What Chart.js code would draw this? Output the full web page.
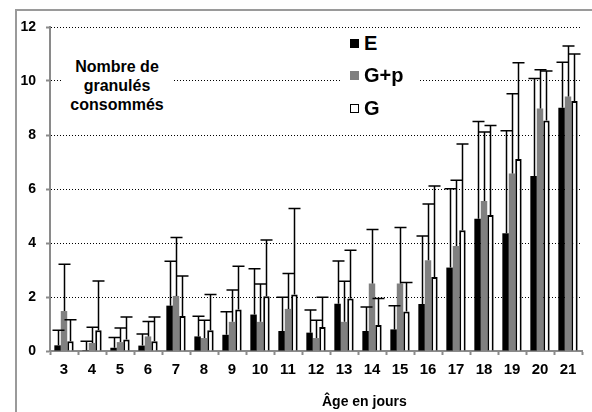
<!DOCTYPE html>
<html>
<head>
<meta charset="utf-8">
<script src="https://cdn.jsdelivr.net/npm/chart.js@4.4.0/dist/chart.umd.min.js"></script>
<style>
  html, body { margin: 0; padding: 0; background: #fff; }
  #wrap { position: relative; width: 592px; height: 412px; overflow: hidden; font-family: "Liberation Sans", Arial, sans-serif; }
  #frame { position: absolute; left: 15px; top: 9px; width: 700px; height: 600px; border: 2px solid #9a9a9a; box-sizing: border-box; }
  canvas { position: absolute; left: 0; top: 0; }
  .note { position: absolute; left: 62px; top: 57px; width: 110px; text-align: center; font-weight: bold; font-size: 16px; line-height: 19px; background: #fff; color: #000; }
  .leg { position: absolute; left: 340px; width: 78px; height: 24px; background: #fff; font-weight: bold; font-size: 20px; line-height: 24px; color: #000; }
  .leg span.sq { position: absolute; left: 10px; top: 8px; width: 9px; height: 9px; box-sizing: border-box; }
  .leg span.tx { position: absolute; left: 24px; top: 0; }
  #xtitle { position: absolute; left: 322px; top: 393px; font-weight: bold; font-size: 14px; color: #000; white-space: nowrap; }
</style>
</head>
<body>
<div id="wrap">
  <div id="frame"></div>
  <canvas id="c" width="592" height="412"></canvas>
  <div class="note">Nombre de<br>granulés<br>consommés</div>
  <div class="leg" style="top:31px"><span class="sq" style="background:#000"></span><span class="tx">E</span></div>
  <div class="leg" style="top:63px"><span class="sq" style="background:#808080"></span><span class="tx">G+p</span></div>
  <div class="leg" style="top:96px"><span class="sq" style="background:#fff;border:1.5px solid #000"></span><span class="tx">G</span></div>
  <div id="xtitle">Âge en jours</div>
</div>
<script>
const categories = ['3','4','5','6','7','8','9','10','11','12','13','14','15','16','17','18','19','20','21'];
const seriesNames = ['E', 'G+p', 'G'];
const valuesE   = [0.21, 0.03, 0.12, 0.20, 1.68, 0.54, 0.60, 1.35, 0.74, 0.68, 1.75, 0.74, 0.80, 1.74, 3.09, 4.90, 4.36, 6.48, 9.01];
const errTopE   = [0.77, 0.36, 0.50, 0.63, 3.32, 1.29, 1.45, 3.05, 1.99, 1.52, 3.33, 1.63, 1.68, 4.26, 6.01, 8.50, 8.16, 10.09, 10.69];
const valuesGp  = [1.48, 0.30, 0.33, 0.54, 2.04, 0.48, 1.08, 1.08, 1.56, 0.48, 1.08, 2.50, 2.50, 3.36, 3.89, 5.56, 6.57, 8.98, 9.43];
const errTopGp  = [3.21, 0.88, 0.85, 1.09, 4.20, 1.14, 2.26, 2.48, 2.87, 1.14, 2.58, 4.50, 4.57, 5.44, 6.32, 8.11, 9.53, 10.42, 11.30];
const valuesG   = [0.36, 0.77, 0.43, 0.36, 1.30, 0.77, 1.54, 2.03, 2.09, 0.89, 1.94, 0.96, 1.46, 2.74, 4.47, 5.04, 7.11, 8.54, 9.26];
const errTopG   = [1.16, 2.59, 1.26, 1.26, 2.78, 2.09, 3.14, 4.11, 5.28, 1.99, 3.73, 1.94, 2.54, 6.11, 7.67, 8.35, 10.68, 10.37, 11.00];
const yTicks    = [0, 2, 4, 6, 8, 10, 12];

const errTops = [errTopE, errTopGp, errTopG];

const errorBars = {
  id: 'errorBars',
  afterDatasetsDraw(chart) {
    const ctx = chart.ctx;
    const y = chart.scales.y;
    ctx.save();
    ctx.strokeStyle = '#000';
    ctx.lineWidth = 1.5;
    chart.data.datasets.forEach((ds, i) => {
      const meta = chart.getDatasetMeta(i);
      meta.data.forEach((el, j) => {
        const top = y.getPixelForValue(errTops[i][j]);
        const x = Math.round(el.x) + 0.5;
        ctx.beginPath();
        ctx.moveTo(x, el.y);
        ctx.lineTo(x, top);
        ctx.moveTo(x - 6, top);
        ctx.lineTo(x + 6, top);
        ctx.stroke();
      });
    });
    ctx.restore();
  }
};

new Chart(document.getElementById('c'), {
  type: 'bar',
  data: {
    labels: categories,
    datasets: [
      { label: seriesNames[0], data: valuesE, backgroundColor: '#000', borderWidth: 0 },
      { label: seriesNames[1], data: valuesGp, backgroundColor: '#808080', borderWidth: 0 },
      { label: seriesNames[2], data: valuesG, backgroundColor: '#fff', borderColor: '#000', borderWidth: 2 }
    ]
  },
  options: {
    responsive: false,
    animation: false,
    devicePixelRatio: 1,
    layout: { padding: { left: 0, right: 10, top: 27, bottom: 31 } },
    plugins: { legend: { display: false }, tooltip: { enabled: false } },
    datasets: { bar: { categoryPercentage: 0.69, barPercentage: 1.0 } },
    scales: {
      x: {
        grid: { drawOnChartArea: false, drawTicks: true, tickLength: 4, tickColor: '#8a8a8a', tickWidth: 2, offset: true },
        border: { display: true, color: '#8a8a8a', width: 2 },
        ticks: { color: '#000', font: { family: 'Liberation Sans', size: 15, weight: 'bold' }, padding: 6, maxRotation: 0, autoSkip: false },
        afterFit(s) { s.height = 30; }
      },
      y: {
        min: 0, max: 12,
        afterBuildTicks(s) { s.ticks = yTicks.map(v => ({ value: v })); },
        grid: {
          color: (c) => (c.tick && c.tick.value === 0) ? 'rgba(0,0,0,0)' : '#000',
          lineWidth: 1,
          drawTicks: true, tickLength: 4, tickColor: '#8a8a8a', tickWidth: 2
        },
        border: { display: true, color: '#8a8a8a', width: 2, dash: [1, 2] },
        ticks: { color: '#000', font: { family: 'Liberation Sans', size: 14, weight: 'bold' }, padding: 10 },
        afterFit(s) { s.width = 50; }
      }
    }
  },
  plugins: [errorBars]
});
</script>
</body>
</html>
